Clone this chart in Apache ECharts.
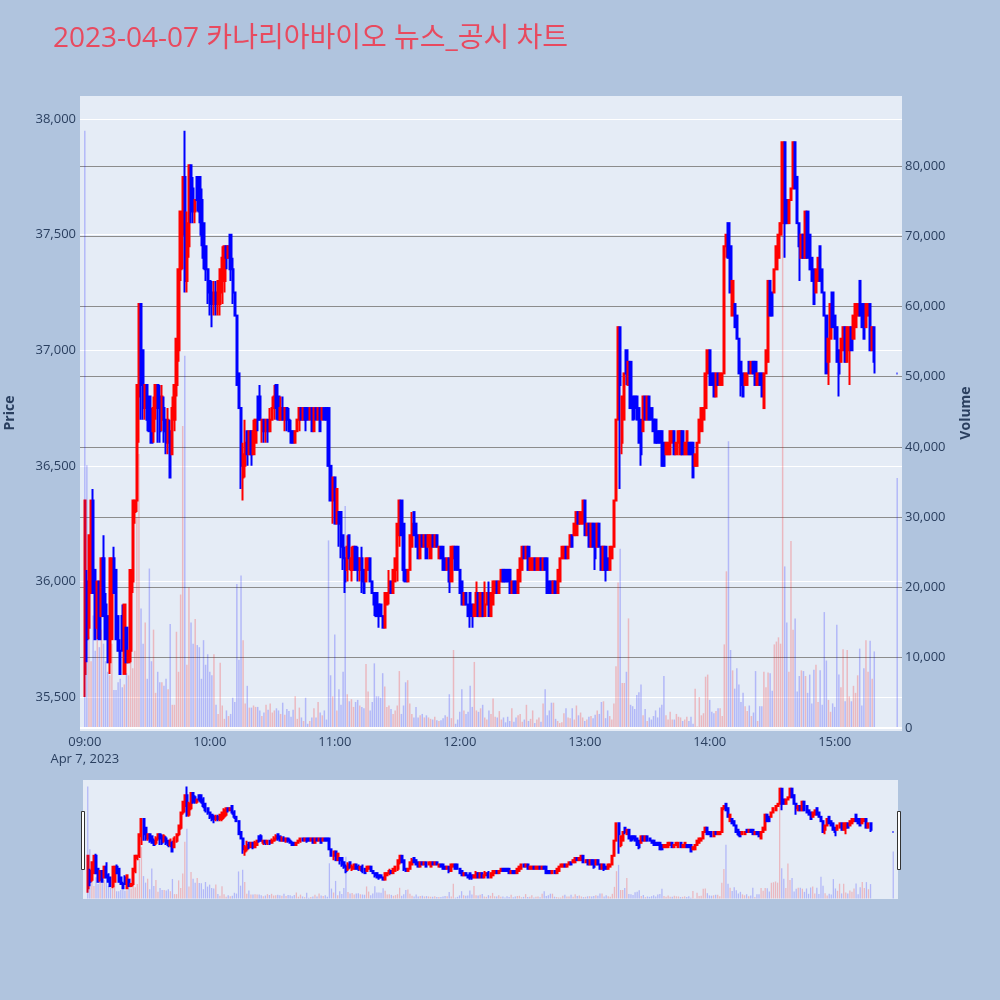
<!DOCTYPE html>
<html><head><meta charset="utf-8">
<script src="https://cdn.jsdelivr.net/npm/echarts@6/dist/echarts.min.js"></script>
<style>html,body{margin:0;padding:0;background:#b0c4de;}#chart{width:1000px;height:1000px;}</style>
</head><body><div id="chart"></div>
<script>
// ---- data (minute candles, 2023-04-07) ----
const chartTitle = '2023-04-07 카나리아바이오 뉴스_공시 차트';
const dateLabel = 'Apr 7, 2023';
const openP = [
35600,36000,35800,35950,36350,36050,35800,36000,35850,36100,
35900,35850,35650,35750,36100,36050,35850,35700,35850,35600,
35800,35650,35700,36000,36300,36350,36800,37200,37000,36750,
36850,36800,36700,36650,36750,36850,36800,36700,36750,36700,
36600,36650,36550,36700,36850,37000,37350,37500,37750,37300,
37450,37800,37700,37600,37750,37750,37650,37550,37450,37350,
37300,37250,37200,37250,37200,37200,37250,37300,37450,37400,
37500,37350,37250,37150,36900,36750,36450,36500,36650,36550,
36650,36550,36600,36800,36800,36650,36700,36650,36700,36650,
36700,36750,36850,36800,36700,36750,36700,36750,36700,36650,
36650,36600,36650,36700,36750,36700,36750,36750,36700,36750,
36650,36750,36700,36750,36700,36750,36750,36750,36500,36350,
36450,36250,36300,36300,36200,36100,36050,36200,36050,36050,
36150,36100,36050,36100,36050,36000,36050,36100,36000,35950,
35950,35900,35900,35850,35800,35900,35950,36000,35950,36000,
36050,36200,36350,36250,36050,36000,36050,36150,36300,36250,
36200,36100,36200,36150,36200,36150,36100,36200,36150,36200,
36100,36150,36150,36100,36050,36100,36000,36100,36150,36150,
36050,36000,35900,35950,35900,35950,35900,35850,35850,35950,
35850,35950,35850,35900,35950,35850,35900,35950,36000,35950,
36000,36050,36050,36050,36050,35950,36000,36000,35950,36000,
36050,36150,36100,36150,36050,36050,36100,36050,36050,36100,
36050,36100,36100,36000,36000,35950,36000,35950,36000,36100,
36100,36150,36100,36150,36200,36200,36200,36300,36250,36250,
36350,36200,36250,36150,36250,36250,36150,36250,36150,36050,
36150,36100,36050,36100,36150,36350,36700,37100,36600,36700,
37000,36850,36950,36800,36800,36800,36750,36700,36650,36800,
36700,36800,36750,36700,36700,36650,36650,36650,36600,36550,
36550,36550,36600,36650,36550,36600,36550,36650,36550,36550,
36600,36600,36600,36500,36500,36600,36650,36700,36750,36900,
37000,36900,36900,36800,36900,36850,36850,36900,37450,37550,
37450,37150,37200,37150,37050,36950,36900,36850,36850,36950,
36900,36950,36950,36850,36900,36900,36750,36900,36950,37300,
37250,37250,37350,37400,37500,37550,37900,37650,37550,37650,
37700,37900,37750,37550,37400,37500,37400,37600,37500,37400,
37350,37250,37300,37450,37350,37250,37150,36950,37050,37250,
37150,37100,37000,36950,37000,37100,36950,37000,37100,37050,
37100,37150,37300,37200,37200,37100,37150,37200,37000,37100,
36900];
const closeP = [
36350,35750,36200,36350,35950,35750,36000,35750,36100,35850,
35750,35650,36100,36100,35950,35750,35700,35600,35700,35900,
35650,35700,36050,36350,36350,36850,37200,36850,36750,36850,
36700,36650,36600,36750,36850,36750,36650,36800,36650,36600,
36700,36450,36750,36850,37050,37350,37600,37750,37300,37550,
37800,37600,37600,37650,37650,37600,37500,37400,37350,37250,
37200,37200,37250,37200,37300,37350,37400,37450,37400,37450,
37350,37250,37150,36850,36750,36500,36550,36600,36550,36650,
36550,36650,36700,36700,36700,36700,36650,36700,36650,36700,
36750,36800,36750,36700,36750,36700,36750,36700,36650,36600,
36600,36650,36700,36750,36700,36750,36700,36700,36750,36650,
36750,36700,36750,36650,36750,36700,36700,36500,36350,36450,
36250,36400,36250,36150,36100,36000,36150,36100,36100,36150,
36050,36050,36100,36000,35950,36100,36100,36000,35950,35900,
35850,35850,35850,35800,35950,35950,36000,35950,36050,36100,
36250,36350,36200,36050,36000,36050,36200,36250,36200,36150,
36100,36200,36150,36200,36100,36200,36200,36150,36200,36150,
36150,36100,36050,36050,36100,36000,36150,36150,36050,36050,
35950,35900,35950,35900,35850,35850,35850,35900,35950,35850,
35950,35850,35900,35950,35850,35950,36000,36000,35950,36000,
36050,36000,36000,36000,35950,36000,35950,35950,36050,36100,
36150,36100,36150,36050,36100,36100,36050,36100,36100,36050,
36100,36050,35950,35950,35950,36000,35950,36050,36100,36150,
36150,36100,36150,36200,36150,36250,36300,36250,36300,36350,
36200,36250,36150,36250,36150,36100,36250,36150,36050,36150,
36050,36050,36150,36150,36350,36700,37100,36850,36800,36900,
36900,36950,36750,36700,36750,36700,36600,36550,36800,36700,
36800,36700,36700,36650,36600,36600,36600,36500,36500,36600,
36600,36650,36650,36550,36600,36650,36650,36550,36600,36650,
36550,36550,36450,36550,36600,36700,36750,36750,36900,37000,
36850,36850,36800,36900,36850,36900,36900,37450,37500,37400,
37250,37300,37100,37050,36900,36850,36800,36900,36900,36900,
36950,36900,36850,36900,36850,36800,36900,37000,37300,37150,
37150,37350,37450,37500,37550,37900,37550,37550,37650,37700,
37900,37700,37550,37450,37500,37400,37600,37400,37350,37300,
37200,37350,37400,37300,37250,37150,36900,37050,37200,37100,
37050,36950,36900,37050,37100,36950,37100,37100,37000,37150,
37200,37200,37150,37100,37050,37200,37200,37000,37100,36950,
36900];
const lowP = [
35500,35650,35750,35950,35950,35750,35750,35750,35850,35850,
35750,35650,35600,35750,35950,35750,35700,35600,35700,35600,
35650,35650,35650,35950,36250,36300,36600,36700,36700,36700,
36650,36650,36600,36600,36700,36600,36600,36650,36600,36550,
36550,36450,36550,36650,36800,36950,37300,37350,37250,37250,
37400,37550,37550,37550,37600,37550,37450,37350,37300,37200,
37150,37100,37150,37150,37150,37150,37200,37250,37350,37400,
37300,37200,37150,36850,36750,36400,36350,36450,36500,36550,
36500,36550,36600,36650,36700,36600,36600,36600,36600,36650,
36700,36700,36700,36700,36700,36700,36650,36650,36650,36600,
36600,36600,36650,36650,36700,36700,36650,36700,36700,36650,
36650,36700,36700,36650,36700,36700,36700,36500,36350,36250,
36250,36250,36150,36100,36050,35950,36000,36050,36000,36050,
36050,36000,36000,35950,35950,36000,36050,36000,35950,35850,
35850,35800,35850,35800,35800,35900,35900,35950,35950,36000,
36000,36150,36200,36000,36000,36000,36050,36150,36200,36150,
36100,36100,36150,36150,36100,36150,36100,36150,36150,36150,
36100,36100,36050,36050,36050,35950,36000,36100,36050,36050,
35950,35900,35900,35900,35850,35800,35800,35850,35850,35850,
35850,35850,35850,35900,35850,35850,35900,35950,35950,35950,
36000,36000,36000,36000,35950,35950,35950,35950,35950,36000,
36050,36100,36100,36050,36050,36050,36050,36050,36050,36050,
36050,36050,35950,35950,35950,35950,35950,35950,36000,36100,
36100,36100,36100,36150,36150,36200,36200,36250,36250,36250,
36200,36200,36150,36150,36150,36050,36150,36150,36050,36050,
36000,36050,36050,36100,36150,36350,36700,36400,36550,36700,
36850,36850,36750,36700,36700,36700,36600,36500,36650,36700,
36700,36700,36700,36650,36600,36600,36600,36500,36500,36550,
36550,36550,36600,36550,36550,36600,36550,36550,36550,36550,
36550,36550,36450,36500,36500,36600,36650,36700,36750,36900,
36850,36850,36800,36800,36850,36850,36850,36900,37400,37400,
37250,37150,37100,37050,36900,36800,36800,36850,36850,36900,
36900,36900,36850,36850,36850,36800,36750,36900,36950,37150,
37150,37250,37350,37400,37500,37550,37400,37550,37550,37650,
37700,37700,37550,37300,37400,37400,37400,37400,37350,37300,
37200,37250,37300,37300,37250,37150,36900,36850,37050,37100,
37050,36950,36800,36950,37000,36950,36950,36850,37000,37050,
37100,37150,37150,37100,37050,37100,37150,37000,37000,36900,
36900];
const highP = [
36350,36050,36200,36350,36400,36050,36000,36000,36100,36200,
35950,35850,36100,36100,36150,36050,35850,35750,35900,35900,
35800,35700,36050,36350,36350,36850,37200,37200,37000,36850,
36850,36800,36750,36800,36850,36850,36850,36850,36800,36700,
36750,36700,36800,36850,37050,37350,37600,37750,37950,37600,
37800,37800,37750,37650,37750,37750,37700,37550,37450,37350,
37300,37300,37300,37300,37300,37350,37450,37450,37450,37450,
37500,37400,37250,37150,36900,36750,36600,36700,36650,36650,
36650,36700,36700,36800,36850,36700,36700,36700,36700,36750,
36800,36850,36850,36800,36800,36800,36750,36750,36750,36700,
36650,36650,36700,36750,36750,36750,36750,36750,36750,36750,
36750,36750,36750,36750,36750,36750,36750,36750,36500,36450,
36450,36400,36300,36300,36200,36150,36200,36200,36150,36150,
36150,36150,36100,36150,36050,36100,36100,36100,36000,35950,
35950,35900,35900,35850,35950,35950,36050,36000,36050,36100,
36250,36350,36350,36250,36050,36050,36200,36300,36300,36250,
36200,36200,36200,36200,36200,36200,36200,36200,36200,36200,
36150,36150,36150,36100,36100,36100,36150,36150,36150,36150,
36050,36000,35950,35950,35900,35950,35900,35900,36000,35950,
35950,35950,36000,35950,36000,35950,36000,36000,36000,36000,
36050,36050,36050,36050,36050,36000,36000,36000,36050,36100,
36150,36150,36150,36150,36100,36100,36100,36100,36100,36100,
36100,36100,36100,36000,36000,36000,36000,36050,36100,36150,
36150,36150,36150,36200,36200,36250,36300,36300,36300,36350,
36350,36250,36250,36250,36250,36250,36250,36250,36150,36150,
36150,36100,36150,36150,36350,36700,37100,37100,36800,36900,
37000,36950,36950,36800,36800,36800,36750,36700,36800,36800,
36800,36800,36750,36700,36700,36650,36650,36650,36600,36600,
36600,36650,36650,36650,36600,36650,36650,36650,36600,36650,
36600,36600,36600,36550,36600,36700,36750,36750,36900,37000,
37000,36900,36900,36900,36900,36900,36900,37450,37500,37550,
37450,37300,37200,37150,37050,36950,36900,36900,36900,36950,
36950,36950,36950,36900,36900,36900,36900,37000,37300,37300,
37250,37350,37450,37500,37550,37900,37900,37650,37650,37700,
37900,37900,37750,37550,37500,37500,37600,37600,37500,37400,
37350,37350,37400,37450,37350,37250,37150,37050,37200,37250,
37150,37100,37000,37050,37100,37100,37100,37100,37100,37150,
37200,37200,37300,37200,37200,37200,37200,37200,37100,37100,
36900];
const volume = [
85000,37400,13000,9500,16000,11000,12500,11500,14000,12000,
9500,8000,7500,12000,5400,5400,6500,7000,5800,6200,
7800,7500,11000,8500,11000,30000,39000,17000,12000,15000,
7000,22700,9500,14000,5000,8000,6500,6500,6000,7000,
5500,14800,3300,3300,13700,8000,19000,43000,53000,9000,
20000,15000,12000,15500,11800,11500,7000,12500,9000,10500,
8000,7500,10500,3300,2000,9300,3200,1300,2500,1700,
2000,4300,3700,20500,9700,21700,12500,3500,6000,2900,
2900,3200,3000,3000,2500,1700,2200,3300,2600,3500,
2200,2500,2800,2500,2000,3600,1900,2700,2400,1600,
2600,4500,1300,2900,1500,1000,4300,600,1000,1500,
2800,1500,3700,2200,1800,2500,1200,26700,7500,4500,
13300,2500,5500,3300,8000,31600,4800,3800,4100,3000,
3700,4000,3200,3000,2800,9100,5200,2500,3700,9200,
4500,4500,4300,7800,5900,3000,3200,2700,2000,2500,
3200,8100,2000,3200,6500,6800,3500,2000,1500,3000,
1500,1800,2000,1500,1800,1500,1300,1200,1600,1100,
1000,1100,1400,1800,1600,4800,1400,11100,600,1200,
2300,5500,2500,2000,2300,6000,3000,9400,2500,2300,
2800,3300,1500,1200,2500,2000,4200,1600,1500,2400,
1200,1500,800,1600,1000,2800,900,1500,1800,2000,
900,1200,3300,1000,1300,2500,700,1200,1500,900,
3500,5500,1800,2500,3600,3600,1300,1000,700,800,
2100,2800,1500,1400,2800,1200,3200,1800,2200,1500,
1000,1200,1600,1700,1400,1900,2500,2000,3700,3800,
1400,2500,1700,1200,3500,8800,20700,25500,6400,6400,
8000,15600,3300,3100,2700,4700,5100,6200,1800,2700,
1000,1500,1200,1700,2500,1500,2900,3300,7400,1800,
1200,2300,1200,1200,2000,1600,1500,1000,1200,1600,
1000,1600,600,5600,200,4400,1800,2100,7300,7600,
4000,2300,2100,2400,2800,2800,1700,11900,22300,40800,
11100,8200,5600,8500,6200,3700,5000,3100,2400,3200,
1700,2200,8100,1000,3100,3100,8000,5800,7900,7800,
5300,11900,12300,12900,12000,83000,23000,15000,8000,26600,
14000,15600,5200,7400,8200,8100,7400,5000,7600,3500,
8300,9000,3700,8200,3300,16500,9600,4000,2300,3500,
3000,14700,7600,5800,11200,3800,11100,4500,3800,6000,
5000,7500,11300,3200,8500,12500,8000,12400,7000,10900,
35600];
// minutes after 09:00: continuous session 09:00-15:19, closing auction at 15:30
const sessionMinutes = 380;
const closingAuctionMinute = 390;
const hourTicks = [0, 60, 120, 180, 240, 300, 360];
const priceTicks = [35500, 36000, 36500, 37000, 37500, 38000];
const volumeTicks = [0, 10000, 20000, 30000, 40000, 50000, 60000, 70000, 80000];
const firstBarVolumeDown = true;

const minutes = [];
for (let i = 0; i < sessionMinutes; i++) minutes.push(i);
minutes.push(closingAuctionMinute);

const UP = '#ff0000', DOWN = '#0000ff';
const candleData = minutes.map((m, i) => [m, openP[i], closeP[i], lowP[i], highP[i]]);
const volData = minutes.map((m, i) => {
  let up = closeP[i] > openP[i];
  if (i === 0 && firstBarVolumeDown) up = false;
  return { value: [m, volume[i]], itemStyle: { color: up ? 'rgba(255,0,0,0.22)' : 'rgba(0,0,255,0.22)' } };
});

const xMin = -2.3, xMax = 392.3;
const pMin = 35353, pMax = 38100;
const vMin = -430, vMax = 89960;
const fmtK = v => Number(v).toLocaleString('en-US');
const fmtT = v => {
  const t = 9 * 60 + v; const h = Math.floor(t / 60), mm = t % 60;
  const s = String(h).padStart(2, '0') + ':' + String(mm).padStart(2, '0');
  return v === 0 ? s + '\n' + dateLabel : s;
};
const font = '"Open Sans", "Noto Sans", sans-serif';
const axisColor = '#2a3f5f';

const chart = echarts.init(document.getElementById('chart'), null, { renderer: 'canvas' });
chart.setOption({
  backgroundColor: '#b0c4de',
  animation: false,
  title: {
    text: chartTitle, left: 48, top: 20,
    textStyle: { color: '#e84a5f', fontSize: 28, fontWeight: 'normal', fontFamily: '"Open Sans", "Noto Sans CJK KR", sans-serif' }
  },
  grid: [
    { left: 80, top: 96, width: 822, height: 635, show: true, backgroundColor: '#e5ecf6', borderWidth: 0 },
    { left: 83, top: 780, width: 815, height: 119, show: true, backgroundColor: '#e5ecf6', borderWidth: 0 }
  ],
  xAxis: [
    { type: 'value', gridIndex: 0, min: xMin, max: xMax,
      axisLine: { show: false }, axisTick: { show: false, customValues: hourTicks }, splitLine: { show: false },
      axisLabel: { customValues: hourTicks, formatter: fmtT, color: axisColor, fontSize: 13, fontFamily: font, lineHeight: 17, margin: 3 } },
    { type: 'value', gridIndex: 1, min: xMin, max: xMax, show: false }
  ],
  yAxis: [
    { type: 'value', gridIndex: 0, min: pMin, max: pMax, position: 'left',
      axisLine: { show: false }, axisTick: { show: false, customValues: priceTicks },
      splitLine: { show: true, lineStyle: { color: '#ffffff', width: 1 } },
      axisLabel: { customValues: priceTicks, formatter: fmtK, color: axisColor, fontSize: 13, fontFamily: font, margin: 4 } },
    { type: 'value', gridIndex: 0, min: vMin, max: vMax, position: 'right',
      axisLine: { show: false }, axisTick: { show: false, customValues: volumeTicks.slice(1) },
      splitLine: { show: true, lineStyle: { color: '#8c8c8c', width: 1 } },
      axisLabel: { customValues: volumeTicks, formatter: fmtK, color: axisColor, fontSize: 13, fontFamily: font, margin: 3 } },
    { type: 'value', gridIndex: 1, min: pMin, max: pMax, show: false, splitLine: { show: false } },
    { type: 'value', gridIndex: 1, min: vMin, max: vMax, show: false, splitLine: { show: false } }
  ],
  series: [
    { type: 'candlestick', xAxisIndex: 0, yAxisIndex: 0, data: candleData, encode: { x: 0, y: [1, 2, 3, 4] },
      barWidth: 1.8, itemStyle: { color: UP, color0: DOWN, borderColor: UP, borderColor0: DOWN, borderWidth: 2 } },
    { type: 'bar', xAxisIndex: 0, yAxisIndex: 1, data: volData, barWidth: 1.5, z: 3,
      markLine: { silent: true, symbol: 'none', label: { show: false }, lineStyle: { color: '#ffffff', width: 2, type: 'solid' }, data: [{ yAxis: 0 }] } },
    { type: 'candlestick', xAxisIndex: 1, yAxisIndex: 2, data: candleData, encode: { x: 0, y: [1, 2, 3, 4] },
      barWidth: 1.5, itemStyle: { color: UP, color0: DOWN, borderColor: UP, borderColor0: DOWN, borderWidth: 2 } },
    { type: 'bar', xAxisIndex: 1, yAxisIndex: 3, data: volData, barWidth: 1.3, z: 3 }
  ],
  graphic: [
    { type: 'text', x: 10, y: 413, rotation: Math.PI / 2,
      style: { text: 'Price', fill: axisColor, font: 'bold 14px "Open Sans", sans-serif', textAlign: 'center', textVerticalAlign: 'middle' } },
    { type: 'text', x: 966, y: 413, rotation: Math.PI / 2,
      style: { text: 'Volume', fill: axisColor, font: 'bold 14px "Open Sans", sans-serif', textAlign: 'center', textVerticalAlign: 'middle' } },
    { type: 'rect', shape: { x: 81.5, y: 811.5, width: 3, height: 58 }, style: { fill: '#ffffff', stroke: '#333', lineWidth: 1 } },
    { type: 'rect', shape: { x: 897.5, y: 811.5, width: 3, height: 58 }, style: { fill: '#ffffff', stroke: '#333', lineWidth: 1 } }
  ]
});
</script></body></html>
